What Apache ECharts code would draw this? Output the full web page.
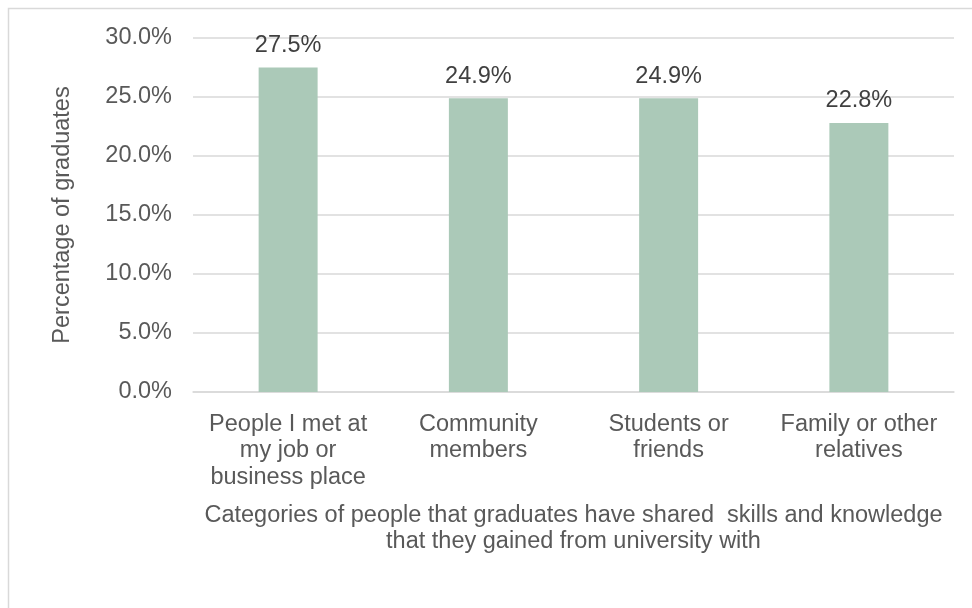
<!DOCTYPE html>
<html>
<head>
<meta charset="utf-8">
<title>Sharing skills and knowledge</title>
<script src="https://cdn.jsdelivr.net/npm/echarts@6/dist/echarts.min.js"></script>
<style>
  html, body { margin: 0; padding: 0; background: #ffffff; }
  #chart { width: 972px; height: 608px; }
</style>
</head>
<body>
<div id="chart"></div>
<script>
// Who graduates shared their university skills and knowledge with
const categories = [
  'People I met at\nmy job or\nbusiness place',
  'Community\nmembers',
  'Students or\nfriends',
  'Family or other\nrelatives'
];
const shares = [27.5, 24.9, 24.9, 22.8];
const yTicks = { min: 0, max: 30, interval: 5 };
const xTitle = 'Categories of people that graduates have shared  skills and knowledge\nthat they gained from university with';
const yTitle = 'Percentage of graduates';

const FONT = '"Liberation Sans", Arial, sans-serif';
const FS = 23.5;

const chart = echarts.init(document.getElementById('chart'), null, { renderer: 'canvas' });

chart.setOption({
  animation: false,
  backgroundColor: '#ffffff',
  textStyle: { fontFamily: FONT },
  graphic: [{
    type: 'rect',
    silent: true,
    shape: { x: 8.5, y: 8.5, width: 1200, height: 1200 },
    style: { fill: 'none', stroke: '#d9d9d9', lineWidth: 1.5 },
    z: -10
  }],
  grid: { left: 193, right: 18, top: 38, bottom: 216, containLabel: false },
  xAxis: {
    type: 'category',
    data: categories,
    name: xTitle,
    nameLocation: 'middle',
    nameGap: 110,
    nameTextStyle: { color: '#595959', fontSize: FS, fontFamily: FONT, lineHeight: 26.5 },
    axisLine: { lineStyle: { color: '#d9d9d9', width: 1.5 } },
    axisTick: { show: false },
    axisLabel: {
      color: '#595959', fontSize: FS, fontFamily: FONT,
      lineHeight: 26.5, margin: 19, interval: 0, align: 'center'
    }
  },
  yAxis: {
    type: 'value',
    min: yTicks.min,
    max: yTicks.max,
    interval: yTicks.interval,
    name: yTitle,
    nameLocation: 'middle',
    nameGap: 118,
    nameTextStyle: { color: '#595959', fontSize: FS, fontFamily: FONT },
    axisLine: { show: false },
    axisTick: { show: false },
    splitLine: { lineStyle: { color: '#d9d9d9', width: 1.5 } },
    axisLabel: {
      color: '#595959', fontSize: FS, fontFamily: FONT, margin: 21,
      formatter: v => v.toFixed(1) + '%'
    }
  },
  series: [{
    type: 'bar',
    data: shares,
    barWidth: '31%',
    itemStyle: { color: '#abc9b8' },
    label: {
      show: true,
      position: 'top',
      distance: 10,
      color: '#404040',
      fontSize: FS,
      fontFamily: FONT,
      lineHeight: 24,
      formatter: p => p.value.toFixed(1) + '%'
    }
  }]
});
</script>
</body>
</html>
